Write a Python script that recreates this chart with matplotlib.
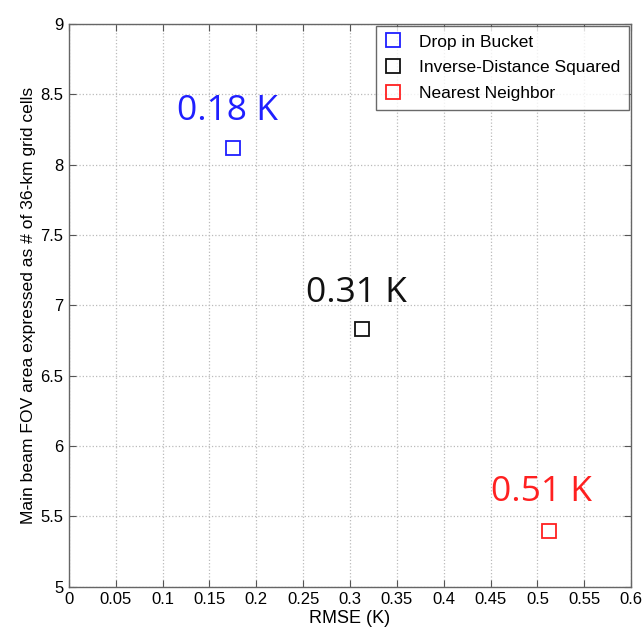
import numpy as np
import matplotlib.pyplot as plt

plt.rcParams['font.family'] = ['Liberation Sans', 'DejaVu Sans']

methods = ['Drop in Bucket', 'Inverse-Distance Squared', 'Nearest Neighbor']
rmse = [0.175, 0.313, 0.512]
fov_cells = [8.12, 6.83, 5.40]
colors = ['#1f1fff', '#111111', '#ff2020']
labels = ['0.18 K', '0.31 K', '0.51 K']
label_pos = [(0.115, 8.385), (0.253, 7.09), (0.450, 5.675)]

fig = plt.figure(figsize=(6.44, 6.31), dpi=100)
ax = fig.add_axes([0.107, 0.070, 0.873, 0.892])

for m, x, y, c in zip(methods, rmse, fov_cells, colors):
    ax.plot(x, y, 's', markersize=9.5, markerfacecolor='none',
            markeredgecolor=c, markeredgewidth=1.3, label=m)

for (tx, ty), t, c in zip(label_pos, labels, colors):
    ax.text(tx, ty, t, color=c, fontsize=25.5, va='center', ha='left',
            family=['Open Sans', 'DejaVu Sans'])

ax.set_xlim(0, 0.6)
ax.set_ylim(5, 9)
ax.set_xticks(np.arange(0, 0.601, 0.05))
ax.set_xticklabels(['0', '0.05', '0.1', '0.15', '0.2', '0.25', '0.3', '0.35',
                    '0.4', '0.45', '0.5', '0.55', '0.6'])
ax.set_yticks(np.arange(5, 9.01, 0.5))
ax.set_yticklabels(['5', '5.5', '6', '6.5', '7', '7.5', '8', '8.5', '9'])
ax.tick_params(direction='in', top=True, right=True, labelsize=12,
               length=5, color='#555555', pad=4)
ax.grid(True, linestyle=':', color='#bbbbbb', linewidth=0.9)
for s in ax.spines.values():
    s.set_color('#666666')
    s.set_linewidth(1.0)

ax.set_xlabel('RMSE (K)', fontsize=13, labelpad=2)
ax.set_ylabel('Main beam FOV area expressed as # of 36-km grid cells',
              fontsize=12.6, labelpad=3)

leg = ax.legend(loc='upper right', fontsize=12.5, frameon=True, fancybox=False,
                borderaxespad=0.1, handlelength=1.0, handletextpad=1.0,
                labelspacing=0.62, borderpad=0.5)
leg.get_frame().set_edgecolor('#444444')
leg.get_frame().set_linewidth(1.0)

fig.savefig('out.png', dpi=100)
